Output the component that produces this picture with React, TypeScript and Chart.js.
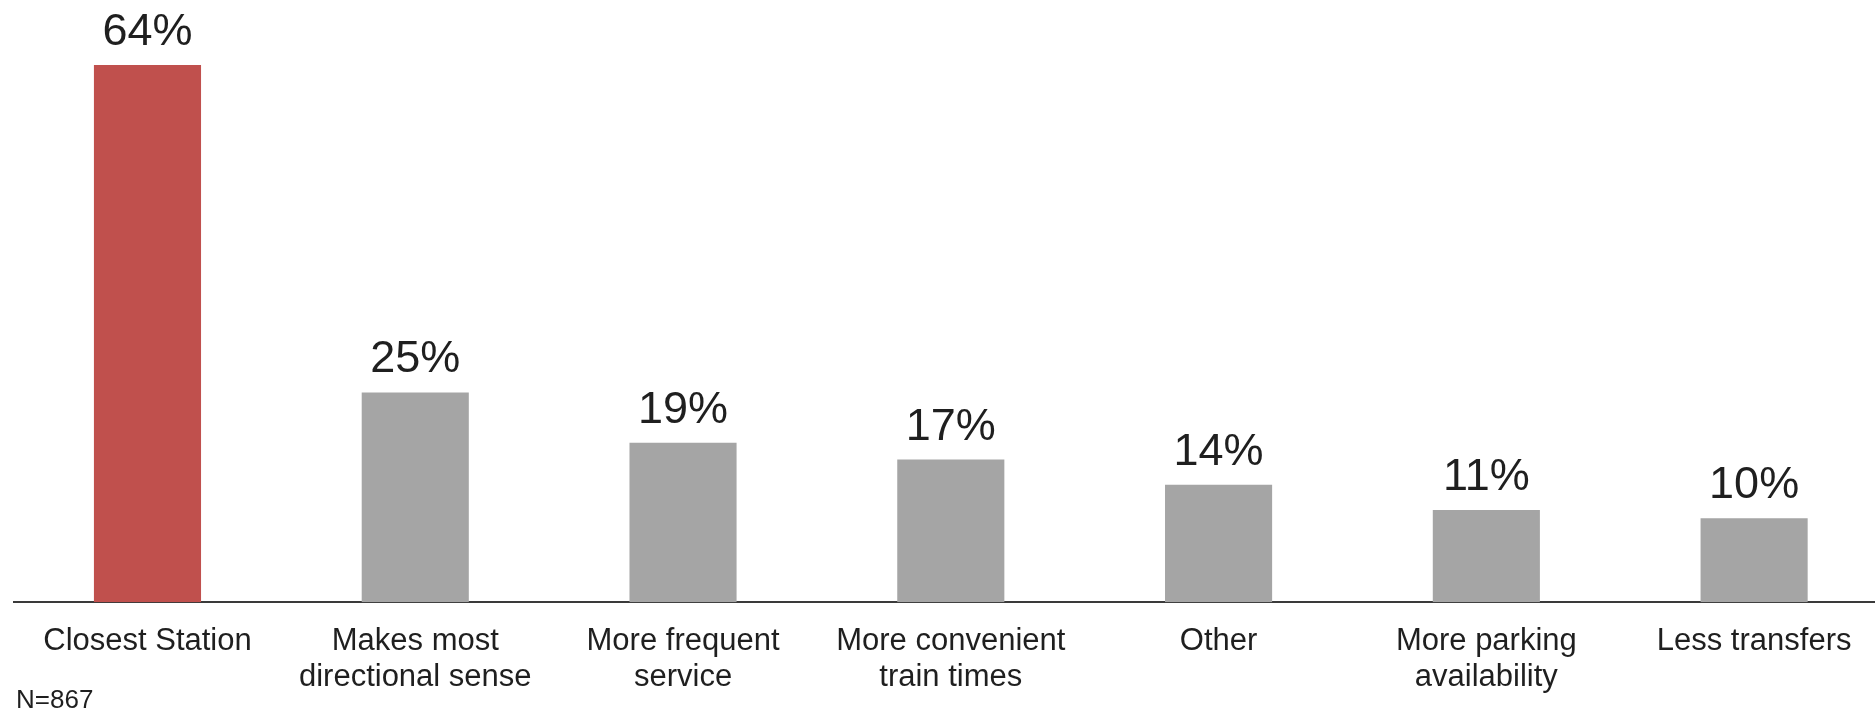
import React, { useEffect, useRef } from "react";
import { Chart, registerables } from "chart.js";

Chart.register(...registerables);

const categories: string[][] = [
  ["Closest Station"],
  ["Makes most", "directional sense"],
  ["More frequent", "service"],
  ["More convenient", "train times"],
  ["Other"],
  ["More parking", "availability"],
  ["Less transfers"],
];
const values: number[] = [64, 25, 19, 17, 14, 11, 10];
const barColors: string[] = ["#C0504D", "#A5A5A5", "#A5A5A5", "#A5A5A5", "#A5A5A5", "#A5A5A5", "#A5A5A5"];
const footnote = "N=867";

const FONT = "'Liberation Sans', Arial, sans-serif";
const TEXT = "#1f1f1f";

export default function App() {
  const ref = useRef<HTMLCanvasElement | null>(null);

  useEffect(() => {
    const canvas = ref.current;
    if (!canvas) return;

    const labelPlugin = {
      id: "barLabels",
      afterDatasetsDraw(chart: any) {
        const ctx = chart.ctx;
        const meta = chart.getDatasetMeta(0);
        ctx.save();
        ctx.font = `45px ${FONT}`;
        ctx.fillStyle = TEXT;
        ctx.textAlign = "center";
        ctx.textBaseline = "alphabetic";
        meta.data.forEach((bar: any, i: number) => {
          ctx.fillText(`${values[i]}%`, bar.x, bar.y - 20);
        });
        ctx.restore();
      },
      afterDraw(chart: any) {
        const ctx = chart.ctx;
        ctx.save();
        ctx.font = `26px ${FONT}`;
        ctx.fillStyle = TEXT;
        ctx.textAlign = "left";
        ctx.textBaseline = "alphabetic";
        ctx.fillText(footnote, 16, 708);
        ctx.restore();
      },
    };

    const chart = new Chart(canvas, {
      type: "bar",
      data: {
        labels: categories,
        datasets: [
          {
            data: values,
            backgroundColor: barColors,
            borderWidth: 0,
            categoryPercentage: 0.4,
            barPercentage: 1.0,
          },
        ],
      },
      options: {
        responsive: false,
        animation: false,
        devicePixelRatio: 1,
        layout: { padding: { left: 13.6, right: 2, top: 14.6, bottom: 0 } },
        plugins: {
          legend: { display: false },
          tooltip: { enabled: false },
          title: { display: false },
        },
        scales: {
          x: {
            grid: { display: false },
            border: { display: true, color: "#3a3a3a", width: 2 },
            ticks: {
              color: TEXT,
              font: { family: FONT, size: 31, lineHeight: 1.17 },
              padding: 13,
              maxRotation: 0,
              autoSkip: false,
            },
            afterFit: (scale: any) => {
              scale.height = 107.7;
            },
          },
          y: {
            display: false,
            min: 0,
            max: 70,
          },
        },
      },
      plugins: [labelPlugin],
    });

    return () => chart.destroy();
  }, []);

  return (
    <div
      style={{
        position: "fixed",
        left: 0,
        top: 0,
        width: 1875,
        height: 710,
        overflow: "hidden",
        background: "#ffffff",
      }}
    >
      <canvas ref={ref} width={1890} height={710} style={{ width: 1890, height: 710, display: "block" }} />
    </div>
  );
}
